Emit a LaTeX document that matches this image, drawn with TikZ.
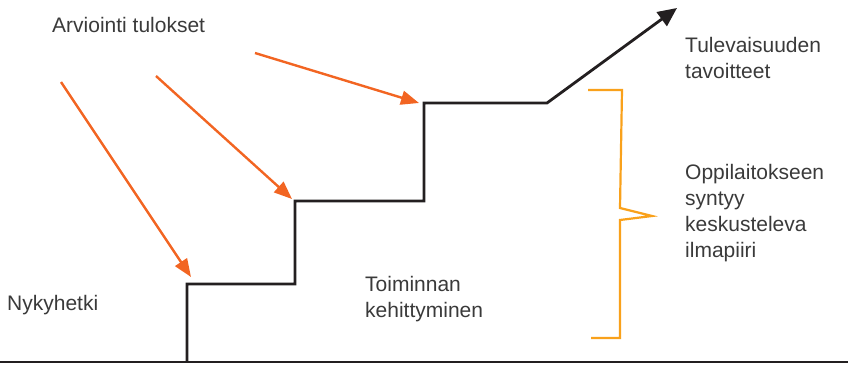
\documentclass[tikz,border=0pt]{standalone}
\usepackage{fontspec}
\setmainfont{Liberation Sans}
\usetikzlibrary{arrows.meta}
\definecolor{ink}{HTML}{231F20}
\definecolor{txt}{HTML}{3A3A3A}
\definecolor{orng}{HTML}{F26522}
\definecolor{brk}{HTML}{F9A11B}
\tikzset{
  lbl/.style={anchor=base west, inner sep=0pt, align=left, text=txt, font=\fontsize{21}{26}\selectfont},
  stair/.style={draw=ink, line width=2.8pt, line join=miter},
  evalarrow/.style={draw=orng, line width=2.4pt, -{Triangle[length=18pt,width=14pt]}},
  brace/.style={draw=brk, line width=2.2pt, line join=miter}
}
\begin{document}
\begin{tikzpicture}[x=1pt,y=-1pt]
\useasboundingbox (0,0) rectangle (848,364);
% ground line
\coordinate (g0) at (0,362);
\coordinate (g1) at (848,362);
\draw[ink, line width=2pt] (g0) -- (g1);
% staircase
\coordinate (s0) at (187,362);
\coordinate (s1) at (187,284);
\coordinate (s2) at (295,284);
\coordinate (s3) at (295,201);
\coordinate (s4) at (424,201);
\coordinate (s5) at (424,103);
\coordinate (s6) at (547,103);
\coordinate (s7) at (677,8);
\draw[stair, -{Triangle[length=19pt,width=17pt]}] (s0) -- (s1) -- (s2) -- (s3) -- (s4) -- (s5) -- (s6) -- (s7);
% orange arrows
\coordinate (a1) at (61,82);
\coordinate (t1) at (191,277);
\coordinate (a2) at (156,76);
\coordinate (t2) at (292,199);
\coordinate (a3) at (255,53);
\coordinate (t3) at (419,103);
\draw[evalarrow] (a1) -- (t1);
\draw[evalarrow] (a2) -- (t2);
\draw[evalarrow] (a3) -- (t3);
% bracket
\coordinate (b0) at (588,90);
\coordinate (b1) at (622,90);
\coordinate (b2) at (620,208);
\coordinate (b3) at (652,216);
\coordinate (b4) at (620,220);
\coordinate (b5) at (620,338);
\coordinate (b6) at (591,338);
\draw[brace] (b0) -- (b1) -- (b2) -- (b3) -- (b4) -- (b5) -- (b6);
% labels (base = baseline of last line)
\node[lbl] (arv) at (52,32) {Arviointi tulokset};
\node[lbl] (tul) at (685,78) {Tulevaisuuden\\tavoitteet};
\node[lbl] (opp) at (685,257) {Oppilaitokseen\\syntyy\\keskusteleva\\ilmapiiri};
\node[lbl] (nyk) at (7,310) {Nykyhetki};
\node[lbl] (toi) at (365,317) {Toiminnan\\kehittyminen};
\end{tikzpicture}
\end{document}
